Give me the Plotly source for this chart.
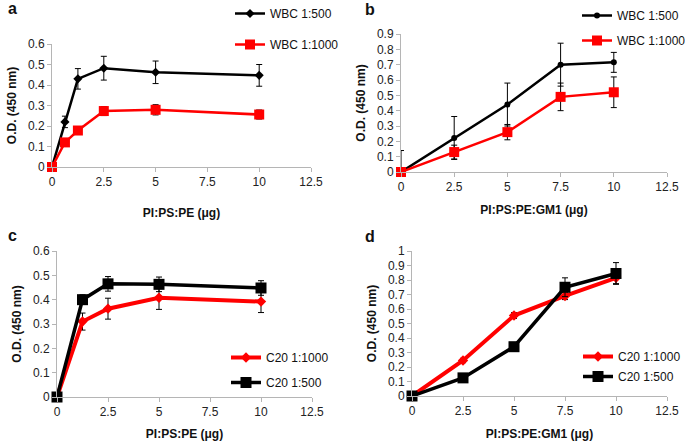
import plotly.graph_objects as go

W, H = 685, 441
FONT = "Liberation Sans"

# ---------------- data ----------------
# Panel a
a_x = [0, 0.625, 1.25, 2.5, 5, 10]
a_wbc500 = [0, 0.22, 0.43, 0.482, 0.462, 0.447]
a_wbc500_err = [0, 0.028, 0.05, 0.058, 0.055, 0.053]
a_wbc1000 = [0, 0.12, 0.178, 0.273, 0.279, 0.256]
a_wbc1000_err = [0, 0.012, 0.012, 0.022, 0.025, 0.022]

# Panel b
b_x = [0, 2.5, 5, 7.5, 10]
b_wbc500 = [0, 0.222, 0.44, 0.70, 0.715]
b_wbc500_err = [0.14, 0.14, 0.14, 0.14, 0.065]
b_wbc500_errm = [0, 0.14, 0.14, 0.14, 0.065]
b_wbc1000 = [0, 0.13, 0.26, 0.49, 0.52]
b_wbc1000_err = [0, 0.045, 0.05, 0.09, 0.10]

# Panel c
c_x = [0, 1.25, 2.5, 5, 10]
c_c20_1000 = [0, 0.31, 0.363, 0.408, 0.392]
c_c20_1000_err = [0, 0.035, 0.043, 0.048, 0.045]
c_c20_500 = [0, 0.40, 0.465, 0.463, 0.448]
c_c20_500_err = [0, 0.02, 0.03, 0.03, 0.03]

# Panel d
d_x = [0, 2.5, 5, 7.5, 10]
d_c20_1000 = [0, 0.245, 0.555, 0.69, 0.815]
d_c20_1000_err = [0, 0.015, 0.02, 0.025, 0.04]
d_c20_500 = [0, 0.125, 0.34, 0.75, 0.845]
d_c20_500_err = [0, 0.01, 0.02, 0.065, 0.075]

x_ticks = [0, 2.5, 5, 7.5, 10, 12.5]
x_tick_labels = ["0", "2.5", "5", "7.5", "10", "12.5"]


def px_x(p):
    return p / W


def px_y(p):
    return 1 - p / H


fig = go.Figure()


def err(arr, arrm=None):
    d = dict(type="data", array=arr, color="black", thickness=1, width=3, visible=True)
    if arrm is not None:
        d["symmetric"] = False
        d["arrayminus"] = arrm
    return d


def add(x, y, e, name, color, symbol, msize, lw, ax, legend, em=None):
    fig.add_trace(go.Scatter(
        x=x, y=y, name=name, mode="lines+markers",
        line=dict(color=color, width=lw),
        marker=dict(color=color, symbol=symbol, size=msize),
        error_y=err(e, em), cliponaxis=False,
        xaxis="x" + ax, yaxis="y" + ax, legend=legend,
        legendgroup=legend + name,
    ))

# a
add(a_x, a_wbc500, a_wbc500_err, "WBC 1:500", "black", "diamond", 7, 2.5, "", "legend")
add(a_x, a_wbc1000, a_wbc1000_err, "WBC 1:1000", "#ff0000", "square", 10, 2.5, "", "legend")
# b
add(b_x, b_wbc500, b_wbc500_err, "WBC 1:500", "black", "circle", 6, 2.5, "2", "legend2", b_wbc500_errm)
add(b_x, b_wbc1000, b_wbc1000_err, "WBC 1:1000", "#ff0000", "square", 10, 2.5, "2", "legend2")
# c
add(c_x, c_c20_1000, c_c20_1000_err, "C20 1:1000", "#ff0000", "diamond", 8, 4, "3", "legend3")
add(c_x, c_c20_500, c_c20_500_err, "C20 1:500", "black", "square", 11, 3.5, "3", "legend3")
# d
add(d_x, d_c20_1000, d_c20_1000_err, "C20 1:1000", "#ff0000", "diamond", 8, 4, "4", "legend4")
add(d_x, d_c20_500, d_c20_500_err, "C20 1:500", "black", "square", 11, 3.5, "4", "legend4")


def xaxis(dom, title, anchor, standoff):
    return dict(domain=dom, range=[0, 12.5], tickvals=x_ticks, ticktext=x_tick_labels,
                showline=True, linecolor="#b5b5b5", linewidth=1,
                ticks="outside", ticklen=4, tickcolor="#b5b5b5",
                showgrid=False, zeroline=False, anchor=anchor, automargin=False,
                tickfont=dict(size=12, color="#222", family=FONT),
                title=dict(text="<b>" + title + "</b>", standoff=standoff,
                           font=dict(size=12, color="#111", family=FONT)))


def yaxis(dom, top, dtick, anchor):
    return dict(domain=dom, range=[0, top], dtick=dtick,
                showline=True, linecolor="#b5b5b5", linewidth=1,
                ticks="outside", ticklen=4, tickcolor="#b5b5b5",
                showgrid=False, zeroline=False, anchor=anchor, automargin=False,
                tickfont=dict(size=12, color="#222", family=FONT),
                title=dict(text="<b>O.D. (450 nm)</b>", standoff=8,
                           font=dict(size=12, color="#111", family=FONT)))


fig.update_layout(
    width=W, height=H, margin=dict(l=0, r=0, t=0, b=0, autoexpand=False),
    paper_bgcolor="white", plot_bgcolor="white",
    font=dict(family=FONT, color="#111"),
    showlegend=True,
    xaxis=xaxis([px_x(52), px_x(311)], "PI:PS:PE (μg)", "y", 20),
    yaxis=yaxis([px_y(167), px_y(44)], 0.6, 0.1, "x"),
    xaxis2=xaxis([px_x(401), px_x(667)], "PI:PS:PE:GM1 (μg)", "y2", 12),
    yaxis2=yaxis([px_y(172), px_y(34)], 0.9, 0.1, "x2"),
    xaxis3=xaxis([px_x(57), px_x(312)], "PI:PS:PE (μg)", "y3", 11),
    yaxis3=yaxis([px_y(397), px_y(251)], 0.6, 0.1, "x3"),
    xaxis4=xaxis([px_x(412), px_x(667)], "PI:PS:PE:GM1 (μg)", "y4", 12),
    yaxis4=yaxis([px_y(396), px_y(251)], 1.0, 0.1, "x4"),
)


def leg(x, y, gap):
    return dict(x=px_x(x), y=px_y(y), xanchor="left", yanchor="top",
                font=dict(size=12, family=FONT, color="#111"), bgcolor="rgba(0,0,0,0)",
                itemwidth=30, traceorder="grouped", tracegroupgap=gap)


fig.update_layout(
    legend=leg(230, -1, 12),
    legend2=leg(577, 1, 6),
    legend3=leg(226, 343, 6),
    legend4=leg(578, 342, 1),
)

for txt, x, y in [("a", 6, -2), ("b", 363, -1), ("c", 6, 225), ("d", 363, 226)]:
    fig.add_annotation(text="<b>" + txt + "</b>", x=px_x(x), y=px_y(y), xref="paper", yref="paper",
                       xanchor="left", yanchor="top", showarrow=False,
                       font=dict(size=16, family=FONT, color="#111"))

fig.write_html("out.html", config={"displayModeBar": False},
               post_script="document.body.style.margin='0px';")
